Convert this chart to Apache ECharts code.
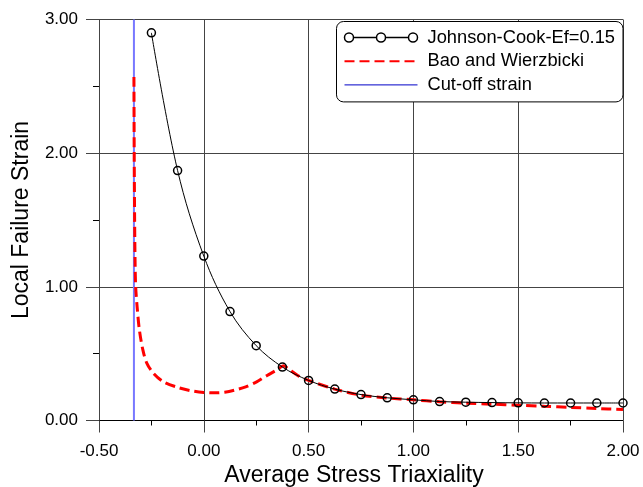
<!DOCTYPE html>
<html><head><meta charset="utf-8">
<script src="https://cdn.jsdelivr.net/npm/echarts@6/dist/echarts.min.js"></script>
<style>html,body{margin:0;padding:0;background:#fff}#c{width:643px;height:487px}</style>
</head><body><div id="c"></div>
<script>
const seriesNames = ['Johnson-Cook-Ef=0.15', 'Bao and Wierzbicki', 'Cut-off strain'];
const xTicks = [-0.5, 0, 0.5, 1.0, 1.5, 2.0];
const yTicks = [0, 1, 2, 3];
const xTitle = 'Average Stress Triaxiality';
const yTitle = 'Local Failure Strain';

const jcX = [-0.25, -0.125, 0, 0.125, 0.25, 0.375, 0.5, 0.625, 0.75, 0.875, 1.0, 1.125, 1.25, 1.375, 1.5, 1.625, 1.75, 1.875, 2.0];
const jcY = [2.90, 1.87, 1.23, 0.815, 0.56, 0.40, 0.30, 0.235, 0.194, 0.17, 0.155, 0.142, 0.137, 0.134, 0.132, 0.131, 0.131, 0.131, 0.131];

const bwX = [-0.3333, -0.332, -0.330, -0.328, -0.325, -0.317, -0.3075, -0.291, -0.272, -0.241, -0.193, -0.129, -0.065, 0.0, 0.05, 0.1, 0.15, 0.2, 0.25, 0.3, 0.35, 0.38, 0.4, 0.45, 0.5, 0.625, 0.75, 0.875, 1.0, 1.125, 1.25, 1.375, 1.5, 1.625, 1.75, 1.875, 2.0];
const bwY = [2.57, 2.0, 1.5, 1.2, 1.0, 0.83, 0.68, 0.53, 0.43, 0.355, 0.29, 0.25, 0.224, 0.21, 0.207, 0.212, 0.228, 0.252, 0.287, 0.335, 0.38, 0.41, 0.39, 0.335, 0.30, 0.235, 0.19, 0.168, 0.155, 0.14, 0.13, 0.122, 0.115, 0.106, 0.098, 0.09, 0.082];

const cutX = [-1 / 3, -1 / 3];
const cutY = [0, 3];

const zip = (a, b) => a.map((v, i) => [v, b[i]]);
const FONT = "'Liberation Sans', Arial, sans-serif";
const jcIcon = 'path://M0,4.5A4.5,4.5,0,1,1,9,4.5A4.5,4.5,0,1,1,0,4.5Z M9,4.5L32,4.5 M32,4.5A4.5,4.5,0,1,1,41,4.5A4.5,4.5,0,1,1,32,4.5Z M41,4.5L64,4.5 M64,4.5A4.5,4.5,0,1,1,73,4.5A4.5,4.5,0,1,1,64,4.5Z';

const chart = echarts.init(document.getElementById('c'), null, {renderer: 'canvas'});
chart.setOption({
  backgroundColor: '#fff',
  animation: false,
  grid: {left: 99, right: 20, top: 19.5, bottom: 66.5, containLabel: false, outerBoundsMode: 'none'},
  xAxis: {
    type: 'value',
    min: xTicks[0], max: xTicks[xTicks.length - 1], interval: xTicks[1] - xTicks[0],
    name: xTitle, nameLocation: 'middle', nameGap: 41,
    nameTextStyle: {fontFamily: FONT, fontSize: 23, color: '#000', padding: [0, 14, 0, 0]},
    axisLine: {show: true, onZero: false, lineStyle: {color: '#000', width: 1}},
    axisTick: {show: true, inside: false, length: 12, lineStyle: {color: '#444'}},
    minorTick: {show: true, splitNumber: 2, length: 5, lineStyle: {color: '#000'}},
    splitLine: {show: true, lineStyle: {color: '#444', width: 1}},
    axisLabel: {fontFamily: FONT, fontSize: 17, color: '#000', margin: 22, formatter: v => v.toFixed(2)}
  },
  yAxis: {
    type: 'value',
    min: yTicks[0], max: yTicks[yTicks.length - 1], interval: yTicks[1] - yTicks[0],
    name: yTitle, nameLocation: 'middle', nameGap: 66, nameRotate: 90,
    nameTextStyle: {fontFamily: FONT, fontSize: 23, color: '#000'},
    axisLine: {show: true, onZero: false, lineStyle: {color: '#444', width: 1}},
    axisTick: {show: true, inside: false, length: 13, lineStyle: {color: '#444'}},
    minorTick: {show: true, splitNumber: 2, length: 6, lineStyle: {color: '#000'}},
    splitLine: {show: true, lineStyle: {color: '#444', width: 1}},
    axisLabel: {fontFamily: FONT, fontSize: 17, color: '#000', margin: 21, formatter: v => v.toFixed(2)}
  },
  legend: {
    orient: 'vertical', right: 20, top: 21.5,
    backgroundColor: '#fff',
    borderColor: '#000', borderWidth: 1, borderRadius: 7,
    padding: [7, 8, 8, 7],
    itemWidth: 73, itemHeight: 9, itemGap: 5.7,
    textStyle: {fontFamily: FONT, fontSize: 18.3, color: '#000', lineHeight: 18, padding: [0, 0, 0, 5]},
    data: [
      {name: seriesNames[0], icon: jcIcon, itemStyle: {color: 'rgba(0,0,0,0)', borderColor: '#000', borderWidth: 1.5}},
      {name: seriesNames[1], itemStyle: {opacity: 0}},
      {name: seriesNames[2], itemStyle: {opacity: 0}, lineStyle: {color: '#0000c8', width: 1}}
    ]
  },
  series: [
    {
      name: seriesNames[2], type: 'line', data: zip(cutX, cutY),
      symbol: 'none', color: '#7878ff',
      lineStyle: {color: '#7878ff', width: 2}, z: 1
    },
    {
      name: seriesNames[1], type: 'line', data: zip(bwX, bwY),
      symbol: 'none', smooth: 0.3, color: '#ff0000',
      lineStyle: {color: '#ff0000', width: 3, type: [10, 5]}, z: 2
    },
    {
      name: seriesNames[0], type: 'line', data: zip(jcX, jcY),
      symbol: 'circle', symbolSize: 8, smooth: 0.35, color: '#000',
      itemStyle: {color: 'rgba(255,255,255,0)', borderColor: '#000', borderWidth: 1.5},
      lineStyle: {color: '#000', width: 1}, z: 3
    }
  ]
});
</script></body></html>
